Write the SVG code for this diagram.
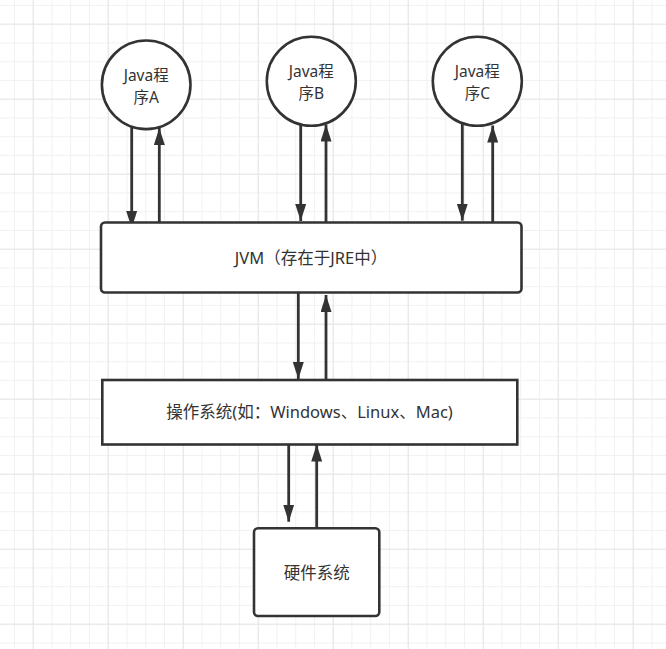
<svg xmlns="http://www.w3.org/2000/svg" width="666" height="649" viewBox="0 0 666 649">
<style>
.shape{fill:#ffffff;stroke:#333333;stroke-width:2.6}
.lbl{font-family:"Noto Sans","Noto Sans CJK SC",sans-serif;font-size:16.5px;fill:#333333;text-anchor:middle}
.clbl{font-size:15.5px}
.conn{stroke:#333333;stroke-width:2.8;fill:none}
</style>
<defs>
<pattern id="minor" x="13.95" y="4.95" width="18.75" height="18.75" patternUnits="userSpaceOnUse">
<path d="M0.5 0V18.75M0 0.5H18.75" stroke="#f1f1f1" stroke-width="1" fill="none"/>
</pattern>
<pattern id="major" x="32.7" y="23.7" width="75" height="75" patternUnits="userSpaceOnUse">
<path d="M0.5 0V75M0 0.5H75" stroke="#e6e6e6" stroke-width="1.2" fill="none"/>
</pattern>
<marker id="arr" markerUnits="userSpaceOnUse" markerWidth="18" markerHeight="12" refX="17" refY="5.5" orient="auto" viewBox="0 0 18 12">
<path d="M0 0L17 5.5L0 11Z" fill="#333333"/>
</marker>
</defs>
<rect width="666" height="649" fill="#ffffff"/>
<rect width="666" height="649" fill="url(#minor)"/>
<rect width="666" height="649" fill="url(#major)"/>

<g id="connectors">
<line class="conn" x1="131.7" y1="127" x2="131.7" y2="228" marker-end="url(#arr)"/>
<line class="conn" x1="159.3" y1="222" x2="159.3" y2="128" marker-end="url(#arr)"/>
<line class="conn" x1="300.7" y1="124.5" x2="300.7" y2="221" marker-end="url(#arr)"/>
<line class="conn" x1="326" y1="222" x2="326" y2="124.5" marker-end="url(#arr)"/>
<line class="conn" x1="462.3" y1="123.5" x2="462.3" y2="220.7" marker-end="url(#arr)"/>
<line class="conn" x1="492.7" y1="222" x2="492.7" y2="125.5" marker-end="url(#arr)"/>
<line class="conn" x1="298.3" y1="293" x2="298.3" y2="379" marker-end="url(#arr)"/>
<line class="conn" x1="326" y1="380" x2="326" y2="295" marker-end="url(#arr)"/>
<line class="conn" x1="288.7" y1="444" x2="288.7" y2="521.7" marker-end="url(#arr)"/>
<line class="conn" x1="316.7" y1="528" x2="316.7" y2="444.5" marker-end="url(#arr)"/>
</g>

<g id="javaA">
<circle class="shape" cx="146.2" cy="84.8" r="44.3"/>
<text class="lbl clbl" x="146.2" y="81">Java程<tspan x="146.2" dy="21.5">序A</tspan></text>
</g>
<g id="javaB">
<circle class="shape" cx="311.3" cy="81.3" r="44.5"/>
<text class="lbl clbl" x="311.3" y="77">Java程<tspan x="311.3" dy="21.5">序B</tspan></text>
</g>
<g id="javaC">
<circle class="shape" cx="477.3" cy="81.3" r="44.5"/>
<text class="lbl clbl" x="477.3" y="77">Java程<tspan x="477.3" dy="21.5">序C</tspan></text>
</g>
<g id="jvm">
<rect class="shape" x="101" y="222.5" width="420.5" height="70" rx="4"/>
<text class="lbl" x="311" y="264">JVM（存在于JRE中）</text>
</g>
<g id="os">
<rect class="shape" x="102.3" y="380" width="415" height="64.5"/>
<text class="lbl" x="309.5" y="418">操作系统(如：Windows、Linux、Mac)</text>
</g>
<g id="hardware">
<rect class="shape" x="254" y="528.3" width="125.3" height="87.7" rx="4"/>
<text class="lbl" x="316.7" y="579">硬件系统</text>
</g>
</svg>
